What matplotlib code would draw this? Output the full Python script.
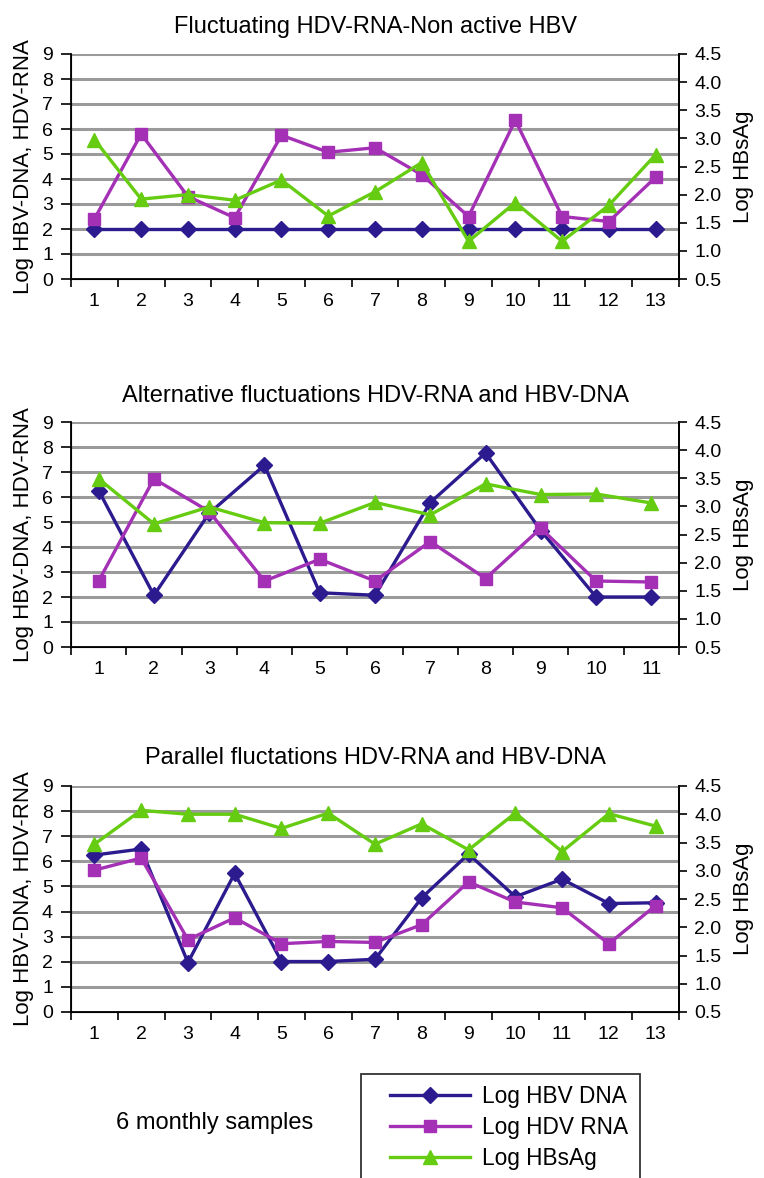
import matplotlib
matplotlib.use("Agg")
import matplotlib.pyplot as plt
from matplotlib.lines import Line2D
from matplotlib.legend_handler import HandlerLine2D

plt.rcParams['font.family'] = ['Liberation Sans', 'DejaVu Sans']

titles = ["Fluctuating HDV-RNA-Non active HBV",
          "Alternative fluctuations HDV-RNA and HBV-DNA",
          "Parallel fluctations HDV-RNA and HBV-DNA"]

# Panel 1
hbv_dna_1 = [2.0, 2.0, 2.0, 2.0, 2.0, 2.0, 2.0, 2.0, 2.0, 2.0, 2.0, 2.0, 2.0]
hdv_rna_1 = [2.4, 5.8, 3.3, 2.45, 5.75, 5.07, 5.25, 4.17, 2.5, 6.35, 2.5, 2.3, 4.07]
hbsag_1 = [2.98, 1.92, 2.0, 1.9, 2.26, 1.62, 2.05, 2.57, 1.17, 1.86, 1.17, 1.81, 2.71]

# Panel 2
hbv_dna_2 = [6.26, 2.07, 5.35, 7.27, 2.17, 2.07, 5.78, 7.76, 4.66, 2.0, 2.0]
hdv_rna_2 = [2.64, 6.73, 5.42, 2.64, 3.51, 2.64, 4.22, 2.74, 4.75, 2.64, 2.6]
hbsag_2 = [3.49, 2.69, 2.99, 2.71, 2.7, 3.07, 2.85, 3.4, 3.21, 3.22, 3.06]

# Panel 3
hbv_dna_3 = [6.25, 6.49, 1.97, 5.52, 2.01, 2.01, 2.1, 4.55, 6.29, 4.59, 5.29, 4.32, 4.35]
hdv_rna_3 = [5.65, 6.13, 2.88, 3.75, 2.72, 2.81, 2.77, 3.48, 5.18, 4.38, 4.15, 2.72, 4.24]
hbsag_3 = [3.47, 4.07, 4.0, 4.0, 3.75, 4.02, 3.47, 3.83, 3.37, 4.02, 3.34, 4.01, 3.79]

panels = [(hbv_dna_1, hdv_rna_1, hbsag_1),
          (hbv_dna_2, hdv_rna_2, hbsag_2),
          (hbv_dna_3, hdv_rna_3, hbsag_3)]

left_ticks = list(range(0, 10))
right_ticks = [0.5, 1.0, 1.5, 2.0, 2.5, 3.0, 3.5, 4.0, 4.5]
legend_labels = ['Log HBV DNA', 'Log HDV RNA', 'Log HBsAg']

c_dna = '#2B1B8E'
c_rna = '#A330B5'
c_ag = '#66CC11'

W, H = 764, 1178
fig = plt.figure(figsize=(W / 100, H / 100), dpi=100)

# axes rectangles in pixels: left, top, right, bottom
rects = [(71, 54, 679, 279), (71, 422, 679, 647), (71, 786, 679, 1012)]
title_y = [27, 396, 758]

for (dna, rna, ag), (l, t, r, b), ttl, ty in zip(panels, rects, titles, title_y):
    ax = fig.add_axes([l / W, 1 - b / H, (r - l) / W, (b - t) / H])
    n = len(dna)
    x = list(range(1, n + 1))
    ax.set_xlim(0.5, n + 0.5)
    ax.set_ylim(0, 9)
    ax.set_yticks(left_ticks)
    ax.set_xticks(x)
    ax.set_xticks([k + 0.5 for k in range(0, n + 1)], minor=True)
    ax.tick_params(axis='x', which='major', length=0, labelsize=14, pad=10)
    ax.tick_params(axis='x', which='minor', length=6, width=1.2, direction='out')
    ax.tick_params(axis='y', length=7, width=1.2, direction='out', labelsize=14, pad=6)
    for yv in left_ticks[1:]:
        ax.axhline(yv, color='#9a9a9a', lw=2.2, zorder=0)
    ax.spines['top'].set_visible(False)
    for s in ['left', 'bottom', 'right']:
        ax.spines[s].set_color('black')
        ax.spines[s].set_linewidth(1.3)
    ax.set_ylabel('Log HBV-DNA, HDV-RNA', fontsize=16, labelpad=6)

    ax2 = ax.twinx()
    ax2.set_ylim(0.5, 4.5)
    ax2.set_yticks(right_ticks)
    ax2.set_yticklabels([f"{v:.1f}" for v in right_ticks])
    ax2.tick_params(axis='y', length=6, width=1.2, direction='out', labelsize=14, pad=5)
    ax2.spines['top'].set_visible(False)
    ax2.spines['right'].set_linewidth(1.3)
    ax2.set_ylabel('Log HBsAg', fontsize=16, labelpad=8)

    ax.plot(x, dna, color=c_dna, lw=2.4, marker='D', ms=8.5, zorder=3)
    ax.plot(x, rna, color=c_rna, lw=2.4, marker='s', ms=8.5, zorder=3)
    ax2.plot(x, ag, color=c_ag, lw=2.4, marker='^', ms=10.5, zorder=3)

    fig.text((l + r) / 2 / W, 1 - ty / H, ttl, ha='center', va='center', fontsize=17)

fig.text(116 / W, 1 - 1123 / H, '6 monthly samples', ha='left', va='center', fontsize=17)

handles = [Line2D([], [], color=c_dna, lw=2.4, marker='D', ms=8.5),
           Line2D([], [], color=c_rna, lw=2.4, marker='s', ms=8.5),
           Line2D([], [], color=c_ag, lw=2.4, marker='^', ms=10.5)]
leg = fig.legend(handles, legend_labels,
                 loc='upper left', bbox_to_anchor=(361 / W, 1 - 1074 / H),
                 borderaxespad=0, fontsize=16.3, frameon=True, fancybox=False,
                 edgecolor='black', handlelength=4.3, labelspacing=0.35,
                 borderpad=0.5, handletextpad=0.55,
                 handler_map={Line2D: HandlerLine2D(xpad=0.8)})
leg.get_frame().set_linewidth(1.3)

fig.savefig('out.png', dpi=100)
